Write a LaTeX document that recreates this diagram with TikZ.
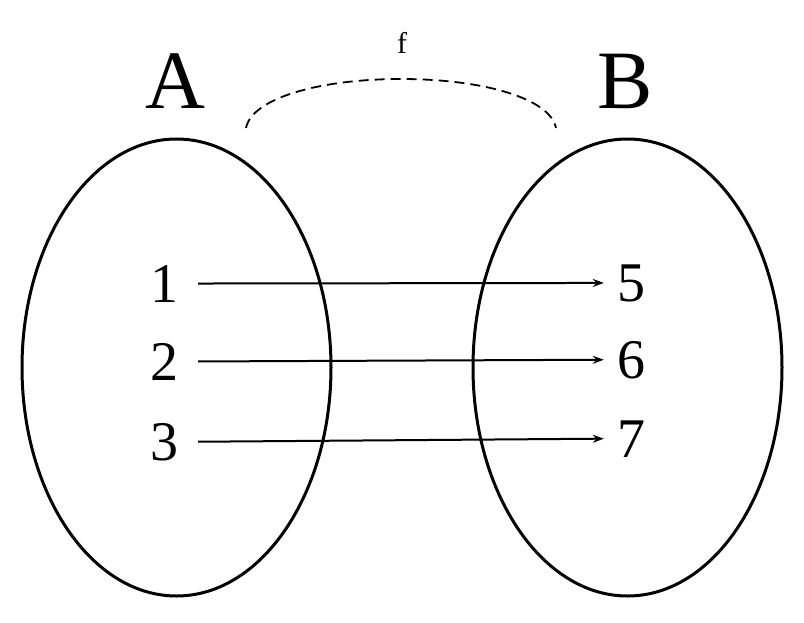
\documentclass[tikz,border=0pt]{standalone}
\usepackage{fontspec}
\setmainfont{Liberation Serif}
\usetikzlibrary{shapes.geometric,arrows.meta}
\begin{document}
\begin{tikzpicture}[x=1pt,y=-1pt,
  setshape/.style={draw,ellipse,line width=3pt,inner sep=0pt,minimum width=309pt,minimum height=457pt},
  biglabel/.style={anchor=base,inner sep=0pt,font=\fontsize{83}{90}\selectfont},
  numleft/.style={anchor=base,inner ysep=0pt,inner xsep=20pt,font=\fontsize{56}{60}\selectfont},
  numright/.style={anchor=base,inner ysep=0pt,inner xsep=13pt,font=\fontsize{56}{60}\selectfont},
  maparrow/.style={line width=2pt,-{Stealth[length=11pt,width=8pt]}},
  funcarc/.style={line width=1.8pt,dash pattern=on 10pt off 6pt}
]
\useasboundingbox (0,0) rectangle (804,622);
\fill[white] (0,0) rectangle (804,622);
\node[setshape] (setA) at (176.5,367.5) {};
\node[setshape] (setB) at (627.5,367.5) {};
\node[biglabel] (labA) at (175,108) {A};
\node[biglabel] (labB) at (625,108) {B};
\node[anchor=base,inner sep=0pt,font=\fontsize{30}{32}\selectfont] (labf) at (402,53) {f};
\coordinate (fl) at (246,128);
\coordinate (fr) at (556,128);
\draw[funcarc] (fl) .. controls (252,98) and (320,79) .. (401,79) .. controls (482,79) and (550,98) .. (fr);
\node[numleft] (n1) at (164,302) {1};
\node[numleft] (n2) at (164,380) {2};
\node[numleft] (n3) at (164,460) {3};
\node[numright] (n5) at (631,301) {5};
\node[numright] (n6) at (631,378) {6};
\node[numright] (n7) at (631,457) {7};
\draw[maparrow] (n1.east) -- (n5.west);
\draw[maparrow] (n2.east) -- (n6.west);
\draw[maparrow] (n3.east) -- (n7.west);
\end{tikzpicture}
\end{document}
